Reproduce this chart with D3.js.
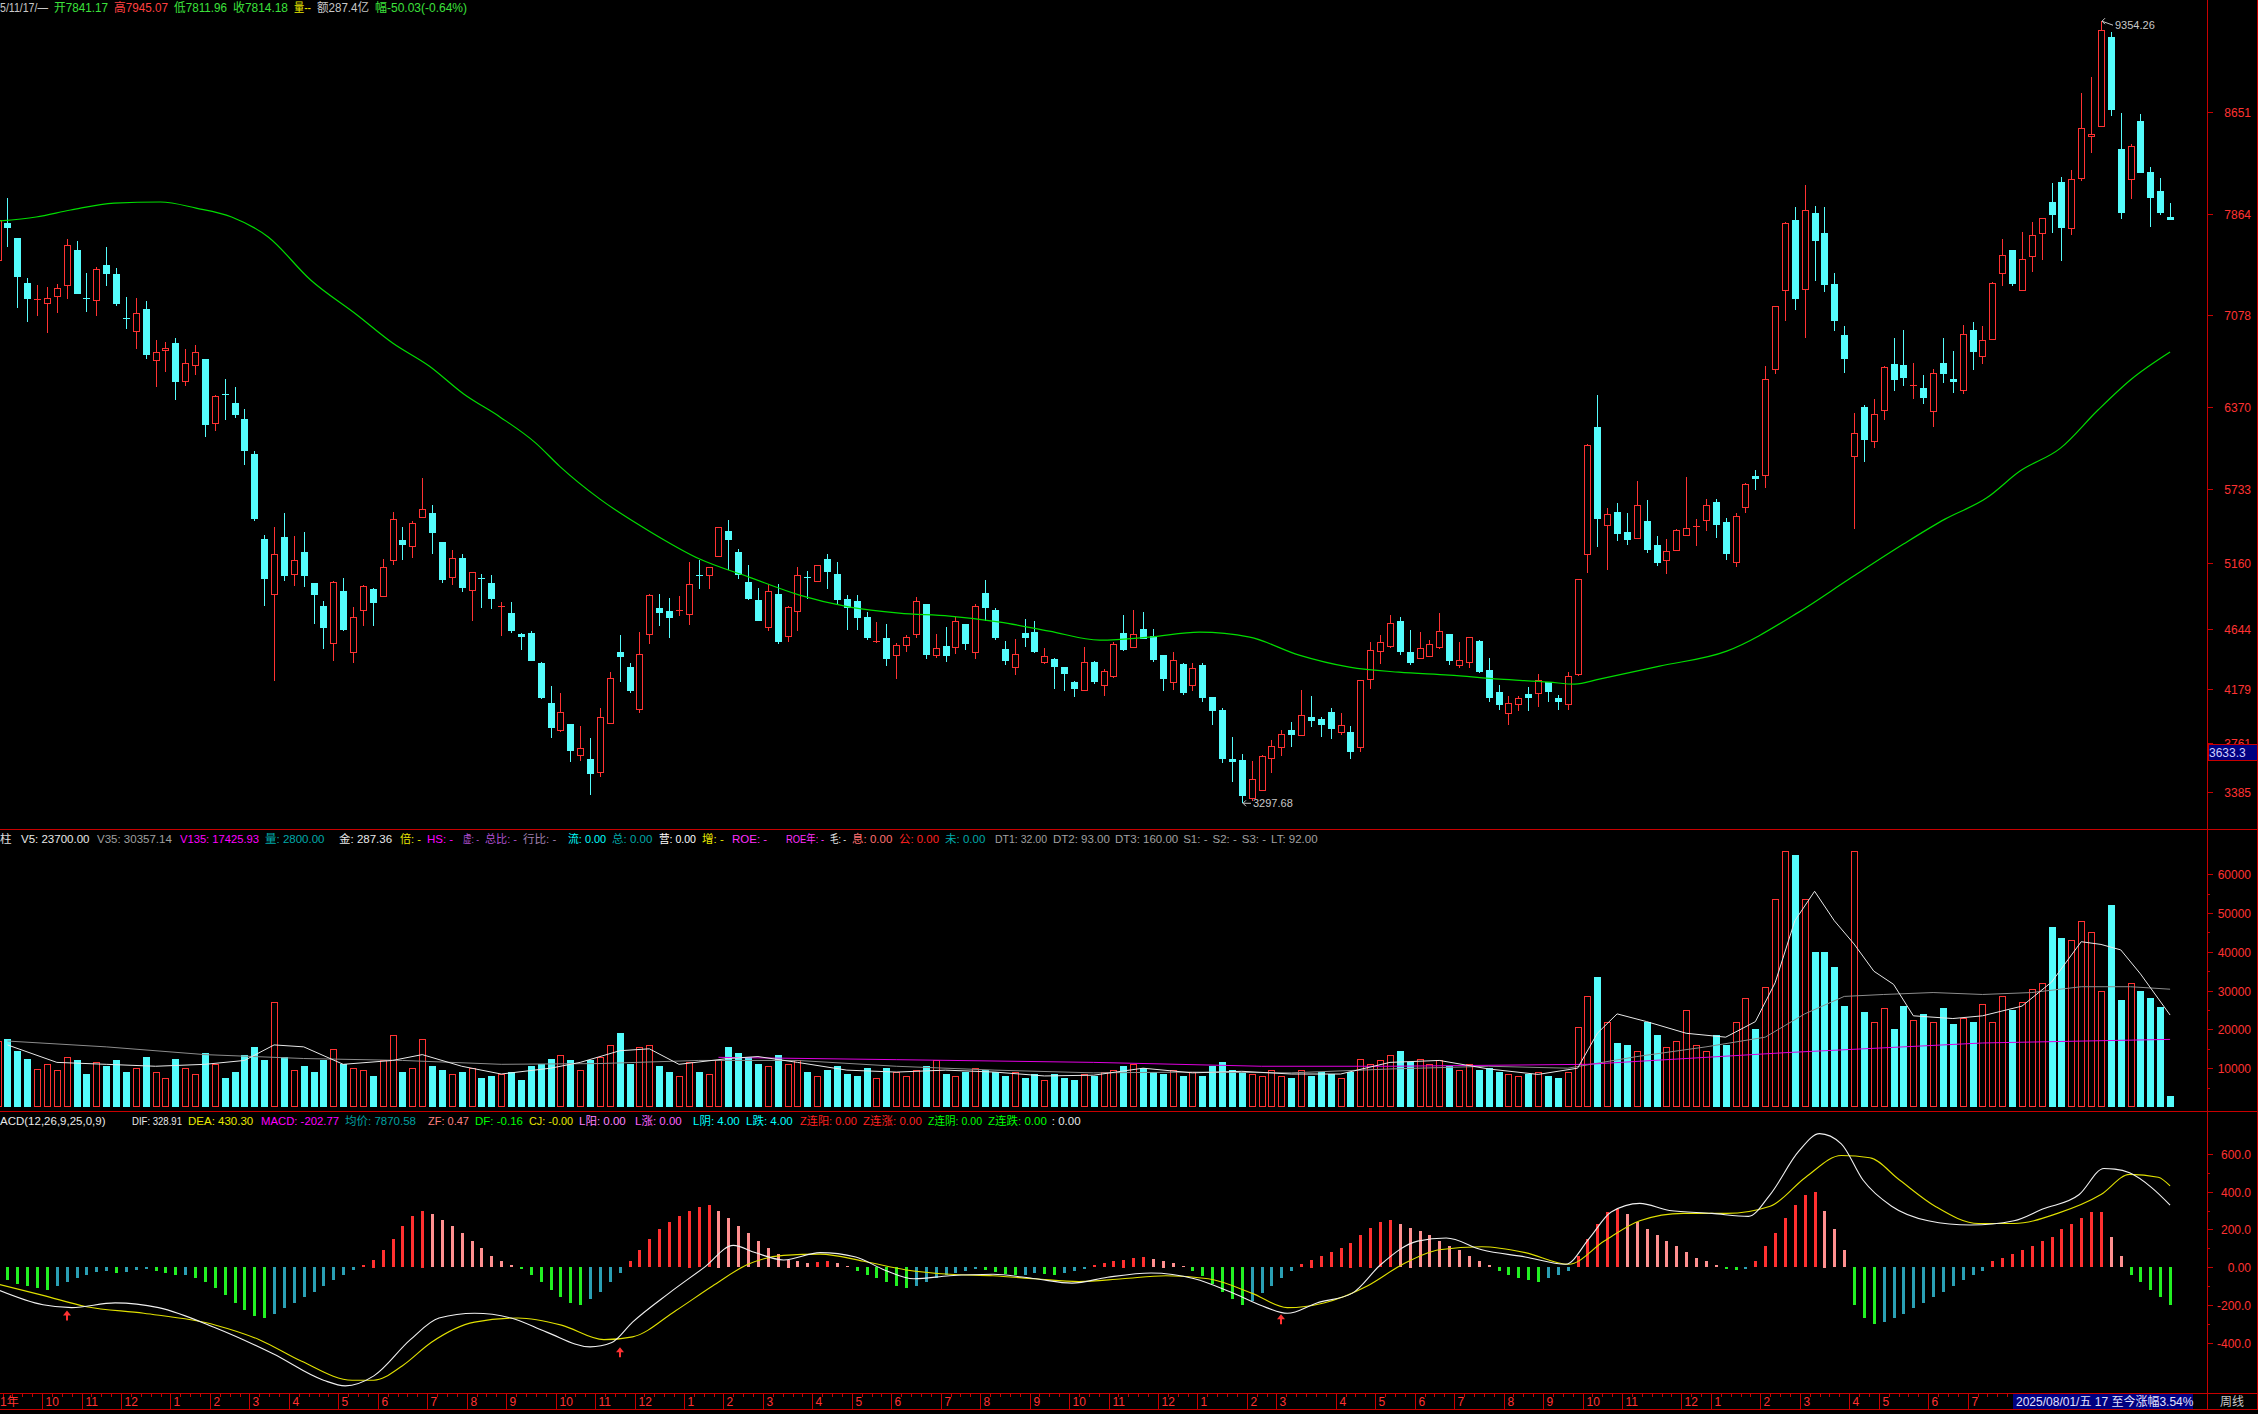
<!DOCTYPE html>
<html><head><meta charset="utf-8">
<script src="https://cdn.jsdelivr.net/npm/d3@7"></script>
<style>
html,body{margin:0;padding:0;background:#000;overflow:hidden;}
svg{display:block;}
text{font-family:"Liberation Sans","Noto Sans CJK SC",sans-serif;font-size:12px;}
</style></head><body>
<svg id="chart" width="2258" height="1414"></svg>
<script>
// ---------------- DATA (weekly candles, k = 0..220; k=0 is the partial bar at the left edge) ----------------
const openP=[7501,7792,7675,7327,7199,7169,7229,7315,7583,7213,
7198,7466,7397,7052,6957,7125,6730,6805,6862,6565,
6688,6736,6246,6470,6398,6271,6002,5342,4915,5357,
5076,5243,5003,4823,4541,4940,4466,4798,4956,4905,
5183,5335,5291,5512,5544,5319,5047,5196,4946,5044,
5000,4820,4769,4608,4614,4387,4073,3865,3908,3674,
3640,3539,3918,4466,4351,4028,4609,4810,4787,4790,
4762,5062,5067,5213,5406,5246,5009,4871,4662,4917,
4593,4790,5052,5019,5192,5070,4879,4864,4741,4550,
4581,4448,4522,4606,4841,4448,4517,4507,4688,4471,
4925,4792,4494,4354,4616,4627,4395,4412,4351,4234,
4178,4395,4212,4282,4615,4509,4646,4592,4445,4238,
4375,4210,4367,4119,4019,3644,3631,3340,3404,3650,
3735,3869,3828,3964,3954,4008,3851,3848,3735,4261,
4478,4517,4708,4468,4424,4440,4509,4607,4370,4393,
4553,4329,4158,3998,4070,4143,4148,4236,4112,4063,
4295,5225,6215,5452,5557,5400,5352,5486,5301,5185,
5256,5378,5435,5488,5630,5476,5170,5595,5832,5838,
6660,7272,7812,7278,7871,7711,7316,6925,5987,6367,
6105,6346,6699,6693,6527,6515,6337,6711,6580,6497,
6966,6764,6892,7405,7580,7272,7536,7717,7952,8106,
7753,8138,8462,8539,9231,8364,8136,8584,8189,8043,
7841.17];
const highP=[7830,7985,7675,7365,7311,7296,7318,7666,7653,7403,
7451,7605,7441,7217,7207,7188,6885,6869,6900,6815,
6847,6736,6458,6587,6518,6353,6024,5373,5436,5544,
5367,5398,5003,4864,5022,5041,4817,4987,4962,5187,
5553,5436,5484,5816,5607,5319,5259,5228,5089,5073,
5063,4854,4854,4614,4633,4393,4203,4153,3908,3893,
3801,4038,4311,4604,4382,4627,4922,4922,4886,4902,
5169,5185,5128,5434,5490,5269,5146,4963,4993,4998,
4825,5131,5093,5144,5228,5169,4909,4909,4779,4703,
4688,4542,4604,4894,4841,4611,4665,4741,4688,4843,
5024,4810,4555,4570,4723,4711,4502,4420,4351,4244,
4509,4402,4340,4543,4755,4793,4778,4646,4445,4468,
4383,4383,4383,4119,4032,3810,3678,3624,3670,3786,
3864,3926,4174,4127,3962,4032,3995,3895,4256,4543,
4600,4755,4739,4638,4623,4561,4770,4607,4546,4584,
4561,4422,4212,4127,4127,4197,4298,4238,4135,4313,
5033,6079,6462,5581,5626,5547,5790,5649,5368,5343,
5423,5823,5497,5654,5654,5506,5542,5779,5877,6684,
7150,7797,7916,8082,7925,7916,7402,6996,6319,6379,
6432,6684,6901,6960,6711,6616,6660,6898,6803,7002,
7025,6990,7337,7664,7584,7723,7803,7827,8100,8144,
8198,8797,8925,9354.26,9272,8643,8403,8637,8225,8139,
7945.07];
const lowP=[7480,7609,7134,7027,7074,6941,7096,7204,7242,7106,
7074,7305,7150,6973,6812,6742,6524,6641,6417,6527,
6616,6135,6183,6268,6284,5920,5487,4826,4247,5022,
4981,4975,4687,4494,4402,4633,4387,4671,4671,4893,
5145,5180,5199,5512,5231,5006,4990,4937,4712,4810,
4804,4595,4617,4488,4399,4102,3805,3847,3620,3628,
3360,3503,3911,4237,4153,3995,4535,4672,4576,4751,
4680,4958,4958,5213,5103,5034,4871,4713,4629,4530,
4545,4629,4881,5011,4958,4843,4642,4642,4560,4537,
4362,4262,4469,4576,4415,4423,4392,4453,4484,4415,
4713,4565,4369,4293,4507,4458,4377,4186,4165,4117,
4168,4224,4127,4269,4478,4509,4566,4393,4168,4176,
4135,4168,4083,3903,3613,3464,3297.68,3318,3394,3533,
3665,3735,3828,3890,3812,3797,3828,3642,3696,4184,
4378,4499,4445,4367,4424,4440,4494,4367,4347,4347,
4308,4083,4021,3905,4014,4014,4045,4083,4021,4021,
4285,5083,5280,5105,5327,5298,5346,5235,5134,5072,
5250,5369,5289,5408,5349,5179,5126,5542,5726,5743,
6625,7031,7121,6898,7343,7257,6957,6631,5423,5942,
6046,6266,6491,6527,6432,6387,6209,6551,6476,6467,
6654,6699,6886,7307,7307,7272,7411,7506,7717,7494,
7702,8118,8331,8539,8622,7821,7975,8180,7762,7851,
7811.96];
const closeP=[7817,7754,7375,7204,7203,7207,7286,7618,7242,7207,
7435,7397,7166,7046,7093,6771,6790,6821,6562,6704,
6790,6227,6448,6464,6303,6028,5500,5035,5228,5060,
5180,5060,4911,4655,5010,4640,4738,4978,4851,5127,
5496,5300,5468,5575,5392,5028,5199,4965,5085,5035,
4877,4826,4633,4589,4402,4115,3877,4005,3704,3722,
3521,3962,4267,4428,4168,4456,4909,4774,4736,4795,
4993,5057,5128,5434,5340,5067,4879,4713,4945,4550,
4815,5067,5044,5144,5088,4874,4807,4734,4581,4555,
4413,4525,4588,4861,4446,4504,4438,4711,4530,4823,
4810,4578,4400,4456,4576,4469,4441,4354,4300,4186,
4395,4237,4322,4535,4486,4605,4566,4409,4261,4411,
4150,4344,4114,4014,3642,3618,3355,3482,3662,3745,
3833,3828,3980,3936,3905,3874,3900,3696,4251,4484,
4543,4693,4468,4383,4499,4535,4631,4401,4406,4584,
4316,4114,4060,4073,4112,4114,4251,4161,4083,4287,
5031,6071,5503,5534,5380,5336,5610,5257,5158,5253,
5417,5432,5443,5607,5452,5230,5521,5770,5809,6586,
7150,7794,7204,7895,7649,7311,7031,6738,6165,6111,
6313,6675,6574,6589,6533,6438,6631,6625,6563,6933,
6794,6886,7328,7545,7316,7515,7702,7827,7851,7753,
8135,8530,8480,9287,8667,7868,8391,8180,7984,7868,
7814.18];
const volume=[17000,
17500,14500,12500,9800,11000,9500,13000,12000,8500,11500,
10500,12000,9000,10000,13000,9000,7500,12500,10000,8500,
14000,11000,7500,9000,13500,15500,12000,27000,13000,9500,
10500,9000,12000,15000,11000,10000,9500,8000,12000,18500,
9000,10000,17500,10500,9500,8500,9000,10000,7500,8000,
8500,9000,7000,10500,11000,12500,13500,12000,9500,12000,
13000,16000,19000,11000,15500,16000,10500,9000,8000,11500,
9000,8500,12000,15500,14000,13000,11000,10500,13500,11000,
12000,9000,8000,9500,10500,8500,8000,10000,7500,10000,
9000,8000,9500,10500,12000,8500,8000,9000,10000,9500,
9000,8000,9000,7500,8500,7000,8500,7500,7000,8500,
8000,9000,9500,10500,11000,10000,9000,8500,9500,8000,
9000,8000,10500,11500,9500,9000,8500,8000,9500,8000,
7500,9500,8000,9000,8500,7500,9000,12500,11000,12000,
13500,14500,11500,12500,11000,12000,10500,9500,11000,9500,
10000,9000,8500,8000,8500,9000,8000,7500,9000,20500,
28500,33500,22000,16500,16000,14500,22000,18500,15500,17000,
25000,16000,14500,18500,16000,22000,28000,20000,31000,53500,
66000,65000,53500,40000,40000,36000,26000,66000,24500,22000,
25500,20000,26000,22500,24000,22000,25500,21500,23000,22000,
26500,22000,28500,25000,27000,30500,32000,46500,43500,43000,
48000,45000,30000,52000,27500,32000,30000,28000,25700,2800];
const macdHist=[-50,
-70,-90,-100,-110,-120,-100,-80,-60,-40,-25,
-20,-30,-25,-15,-10,-20,-30,-45,-40,-60,
-80,-110,-150,-190,-230,-260,-270,-250,-220,-190,
-160,-130,-100,-70,-40,-15,10,40,90,150,
220,270,300,280,250,220,180,140,100,60,
30,10,-10,-40,-80,-120,-160,-190,-200,-170,
-130,-80,-30,30,90,150,200,240,270,300,
320,330,300,260,220,180,140,100,70,40,
30,20,25,30,20,5,-20,-40,-60,-80,
-100,-110,-100,-80,-60,-40,-30,-20,-10,-15,
-25,-35,-45,-40,-30,-35,-40,-30,-20,-10,
10,20,30,40,50,55,45,35,20,5,
-20,-50,-90,-130,-170,-200,-180,-140,-100,-60,
-20,15,40,60,80,100,130,170,210,240,
250,230,210,190,170,140,110,90,60,30,
10,-20,-40,-60,-70,-80,-60,-40,-20,60,
150,230,290,310,280,240,200,170,140,110,
80,50,30,10,-10,-15,-10,30,110,180,
260,330,380,400,300,200,90,-200,-270,-300,
-290,-270,-250,-220,-190,-160,-130,-100,-70,-40,
-20,30,50,70,90,110,140,160,200,230,
260,290,290,160,60,-40,-80,-120,-160,-202.77];
// moving-average line of the price panel (sampled: bar index, value)
const maIdx=[0.2,3.9,7.4,11.8,16.5,20.1,23.7,27.4,31.7,36.4,40,43.7,47.2,50.9,54.5,56.9,61,66,71.1,76.1,81.2,86.3,91.3,96.4,101.5,106.5,111.6,116.6,121.7,126.8,131.8,136.9,141.9,147,152.1,157.1,159.7,162.2,168.3,175.1,182.4,187.5,193,197.2,201.4,204.8,208.9,212.7,216.1,220];
const maVal=[7807,7838,7892,7946,7954,7907,7838,7683,7350,7079,6862,6684,6467,6288,6087,5909,5653,5405,5189,5049,4910,4817,4770,4747,4701,4631,4561,4584,4623,4584,4445,4352,4313,4290,4259,4236,4220,4259,4360,4476,4778,5034,5305,5498,5661,5870,6048,6343,6583,6792];
// volume averages
const v5Idx=[1,6,11,16,21,25,28,31,35,40,43,47,51,56,59,63,66,69,74,77,81,86,91,96,101,106,111,116,121,126,131,136,141,146,151,156,160,162,164,167,171,175,178,180,182,184,186,188,190,192,194,198,201,205,208,211,213,215,217,220];
const v5Val=[16000,11500,11000,10500,11000,12000,16000,15500,11000,12000,13500,10500,8500,10000,11500,14500,15000,11000,12500,13000,11500,9500,9000,9500,9000,8000,8200,10000,8800,9200,8500,8500,11500,12000,9800,8400,10000,19000,24000,22000,19000,18000,22000,32000,48000,55600,48000,42000,35000,31600,23500,22800,23500,26000,32200,42600,41900,40500,34300,23700];
const v35Idx=[1,11,21,31,41,51,61,71,81,91,101,111,121,131,141,151,159,166,173,179,183,187,191,196,201,206,211,216,220];
const v35Val=[17000,15500,13500,12500,12000,11000,11200,12000,12000,10500,9500,8800,9000,8800,9800,10500,10000,13000,15500,18000,24000,28500,29000,29500,29000,29500,31000,31000,30357.14];
const v135Idx=[73,91,111,128,141,161,181,201,220];
const v135Val=[12800,12200,11500,10500,10500,11000,14000,16500,17425.93];
// MACD lines (sampled)
const difIdx=[0,4.6,7.5,11.9,16.3,22.1,27.9,33,35.2,38.1,41.8,44.7,48.3,52,55.6,60,62.2,64.3,68,71.6,74.5,76.7,79.6,83.3,86.9,89.8,92.8,96.4,100.8,105.1,108.8,112.4,116.8,121.2,124.8,128.5,130.6,133.6,137.2,140.1,143.8,146.7,150.3,154.7,158.8,161.2,163.4,166.3,169.3,173.6,177.3,179.5,182.4,184.5,186.7,188.9,191.8,195.5,199.8,204.2,207.1,210.8,213.3,214.4,215.9,218.1,220];
const difVal=[-120,-200,-215,-190,-215,-323,-460,-600,-630,-577,-385,-270,-245,-270,-345,-423,-400,-292,-138,0,115,77,38,77,54,-15,-62,-46,-38,-62,-85,-54,-31,-62,-131,-215,-245,-190,-138,15,138,154,92,54,15,154,292,338,300,285,269,385,615,708,654,462,323,246,223,246,308,385,523,520,500,423,328.91];
const deaIdx=[0,4.6,9,14.8,22.1,26.5,30.8,35.9,38.1,41,43.9,48.3,52.7,57.1,61.4,64.3,68.7,72.4,76,79.6,83.3,87.7,92,96.4,100.8,105.1,109.5,113.9,118.3,122.6,127,130.6,134.3,138.7,142.3,146,150.3,154.7,159.1,162.7,166.3,170.7,175.1,179.5,183.1,186.7,189.6,192.6,196.2,200.6,204.2,208.6,213,215.9,218.8,220];
const deaVal=[-90,-150,-210,-245,-308,-385,-500,-600,-600,-523,-400,-292,-270,-308,-385,-370,-230,-100,15,62,69,31,-15,-38,-46,-62,-77,-62,-46,-62,-138,-215,-190,-100,15,92,108,77,15,138,246,285,285,323,477,592,580,462,323,231,231,285,385,492,477,430.30];
const arrowIdx=[7,63,130];
const arrowVal=[-225,-420,-245];
// axis ticks
const priceTicks=[3385,3761,4179,4644,5160,5733,6370,7078,7864,8651];
const volTicks=[10000,20000,30000,40000,50000,60000];
const macdTicks=[-400,-200,0,200,400,600];
const macdTickLbl=["-400.0","-200.0","0.00","200.0","400.0","600.0"];
const monthIdx=[0,5,9,13,18,22,26,30,35,39,44,48,52,57,61,65,70,74,78,83,87,91,96,100,105,109,113,118,122,127,130,136,140,144,148,153,157,161,165,171,174,179,183,188,191,196,200];
const monthLbl=["1年","10","11","12","1","2","3","4","5","6","7","8","9","10","11","12","1","2","3","4","5","6","7","8","9","10","11","12","1","2","3","4","5","6","7","8","9","10","11","12","1","2","3","4","5","6","7"];
// header texts
const G='#3ce03c', R='#ff4040';
const topHdr=[["5/11/17/—","#c8c8c8"],["开7841.17",G],["高7945.07",R],["低7811.96",G],["收7814.18",G],["量--","#e8e800"],["额287.4亿","#c8c8c8"],["幅-50.03(-0.64%)",G]];
const topHdrX=[0,54,114,174,233,294,317,375];
const volHdr=[["柱","#e0e0e0"],["V5: 23700.00","#e8e8e8"],["V35: 30357.14","#a0a0a0"],["V135: 17425.93","#ff00ff"],["量: 2800.00","#00a8a8"],["金: 287.36","#e8e8e8"],["倍: -","#e8e800"],["HS: -","#ff00ff"],["虚: -","#b050d0"],["总比: -","#b050d0"],["行比: -","#a080b0"],["流: 0.00","#00ffff"],["总: 0.00","#00a8a8"],["营: 0.00","#ffffff"],["增: -","#e8e800"],["ROE: -","#ff30ff"],["ROE年: -","#ff30ff"],["毛: -","#e8e8e8"],["息: 0.00","#ff7070"],["公: 0.00","#ff2020"],["未: 0.00","#00a8a8"],["DT1: 32.00","#a0a0a0"],["DT2: 93.00","#a0a0a0"],["DT3: 160.00","#a0a0a0"],["S1: -","#a0a0a0"],["S2: -","#a0a0a0"],["S3: -","#a0a0a0"],["LT: 92.00","#a0a0a0"]];
const volHdrX=[0,21,97,180,265,339,400,427,463,485,523,568,612,659,702,732,786,830,852,899,945,995,1053];
const macdHdr=[["ACD(12,26,9,25,0,9)","#e8e8e8"],["DIF: 328.91","#e8e8e8"],["DEA: 430.30","#e8e800"],["MACD: -202.77","#ff00ff"],["均价: 7870.58","#00a0a0"],["ZF: 0.47","#ff8080"],["DF: -0.16","#00ff00"],["CJ: -0.00","#e8e800"],["L阳: 0.00","#ff80ff"],["L涨: 0.00","#ff60ff"],["L阴: 4.00","#00ffff"],["L跌: 4.00","#00ffff"],["Z连阳: 0.00","#ff2020"],["Z连涨: 0.00","#ff2020"],["Z连阴: 0.00","#00ff00"],["Z连跌: 0.00","#00ff00"],[": 0.00","#e8e8e8"]];
const macdHdrX=[0,132,188,261,345,428,475,529,579,635,693,746,800,863,928,988];

// ---------------- DRAWING ----------------
const RED='#ff3232', CYAN='#54fcfc', LINE='#c80000';
const svg=d3.select('#chart');
svg.append('rect').attr('width',2258).attr('height',1414).attr('fill','#000');
const x=d3.scaleLinear().domain([0,220]).range([-2.4,2170.1]);
const yP=d3.scaleLinear().domain([3385,8651]).range([792,112]);
const yV=d3.scaleLinear().domain([0,60000]).range([1107,874.2]);
const yM=d3.scaleLinear().domain([-400,600]).range([1342.5,1154]);
const defs=svg.append('defs');
function clip(id,x0,y0,w,h){defs.append('clipPath').attr('id',id).append('rect').attr('x',x0).attr('y',y0).attr('width',w).attr('height',h);}
clip('cpP',0,0,2207,829); clip('cpV',0,846,2207,265); clip('cpM',0,1128,2207,265);
const bars=d3.range(openP.length).map(k=>({k,o:openP[k],h:highP[k],l:lowP[k],c:closeP[k],v:volume[k],m:macdHist[k]}));
const cxk=k=>Math.round(x(k));

// panel frame lines
const frame=svg.append('g').attr('stroke',LINE).attr('shape-rendering','crispEdges');
[829.5,1111.5,1393.5,1409.5].forEach(yy=>frame.append('line').attr('x1',0).attr('x2',2258).attr('y1',yy).attr('y2',yy));
frame.append('line').attr('x1',2207.5).attr('x2',2207.5).attr('y1',0).attr('y2',1410);
frame.append('line').attr('x1',2257.5).attr('x2',2257.5).attr('y1',0).attr('y2',1410);

// price candles
const gP=svg.append('g').attr('clip-path','url(#cpP)').attr('shape-rendering','crispEdges');
bars.forEach(d=>{
  const cx=cxk(d.k), up=d.c>=d.o, col=up?RED:CYAN;
  const yT=Math.round(yP(Math.max(d.o,d.c))), yB=Math.round(yP(Math.min(d.o,d.c)));
  const yH=Math.round(yP(d.h)), yL=Math.round(yP(d.l));
  if(up){
    if(yH<yT) gP.append('line').attr('x1',cx+0.5).attr('x2',cx+0.5).attr('y1',yH).attr('y2',yT).attr('stroke',col);
    if(yL>yB) gP.append('line').attr('x1',cx+0.5).attr('x2',cx+0.5).attr('y1',yB).attr('y2',yL).attr('stroke',col);
    if(yB-yT>=2) gP.append('rect').attr('x',cx-2.5).attr('y',yT+0.5).attr('width',6).attr('height',yB-yT).attr('fill','#000').attr('stroke',col);
    else gP.append('line').attr('x1',cx-3).attr('x2',cx+4).attr('y1',yT+0.5).attr('y2',yT+0.5).attr('stroke',col);
  } else {
    gP.append('line').attr('x1',cx+0.5).attr('x2',cx+0.5).attr('y1',yH).attr('y2',yL).attr('stroke',col);
    gP.append('rect').attr('x',cx-3).attr('y',yT).attr('width',7).attr('height',Math.max(1,yB-yT)).attr('fill',col);
  }
});
// MA line
const maPts=maIdx.map((k,i)=>[k,maVal[i]]);
svg.append('path').attr('clip-path','url(#cpP)').attr('d',d3.line().x(d=>x(d[0])).y(d=>yP(d[1])).curve(d3.curveMonotoneX)(maPts))
  .attr('fill','none').attr('stroke','#00dc00').attr('stroke-width',1.2);

// high / low annotations
(function(){
  const kH=d3.maxIndex(highP), kL=d3.minIndex(lowP);
  const hx=cxk(kH), hy=yP(highP[kH]);
  svg.append('path').attr('d',`M${hx+1},${hy} l3,-3 M${hx+1},${hy} l3,3 M${hx+1},${hy} L${hx+12},${hy+4}`).attr('stroke','#c8c8c8').attr('fill','none');
  svg.append('text').attr('x',hx+14).attr('y',hy+8).attr('fill','#c8c8c8').style('font-size','11px').text(d3.format('.2f')(highP[kH]));
  const lx=cxk(kL), ly=yP(lowP[kL]);
  svg.append('path').attr('d',`M${lx+1},${ly} l3,-3 M${lx+1},${ly} l3,3 M${lx+1},${ly} L${lx+9},${ly}`).attr('stroke','#c8c8c8').attr('fill','none');
  svg.append('text').attr('x',lx+11).attr('y',ly+4).attr('fill','#c8c8c8').style('font-size','11px').text(d3.format('.2f')(lowP[kL]));
})();

// price axis
const gA=svg.append('g');
priceTicks.forEach(v=>{
  const yy=Math.round(yP(v))+0.5;
  gA.append('line').attr('x1',2207).attr('x2',2213).attr('y1',yy).attr('y2',yy).attr('stroke',LINE).attr('shape-rendering','crispEdges');
  gA.append('text').attr('x',2251).attr('y',yy+4.5).attr('text-anchor','end').attr('fill',RED).text(v);
});
// current-value box
gA.append('rect').attr('x',2208).attr('y',744.5).attr('width',49).attr('height',16).attr('fill','#000080').attr('stroke',LINE).attr('shape-rendering','crispEdges');
gA.append('text').attr('x',2209).attr('y',757).attr('fill','#d0d0ff').text('3633.3');

// volume bars
const gV=svg.append('g').attr('clip-path','url(#cpV)').attr('shape-rendering','crispEdges');
const y0v=Math.round(yV(0));
bars.forEach(d=>{
  const cx=cxk(d.k), up=d.c>=d.o, yy=Math.round(yV(d.v));
  if(up) gV.append('rect').attr('x',cx-2.5).attr('y',yy+0.5).attr('width',6).attr('height',Math.max(1,y0v-yy-1)).attr('fill','#000').attr('stroke',RED);
  else gV.append('rect').attr('x',cx-3).attr('y',yy).attr('width',7).attr('height',Math.max(1,y0v-yy)).attr('fill',CYAN);
});
function vline(idx,val,col,w){
  svg.append('path').attr('clip-path','url(#cpV)').attr('d',d3.line().x(d=>x(d[0])).y(d=>yV(d[1]))(idx.map((k,i)=>[k,val[i]])))
    .attr('fill','none').attr('stroke',col).attr('stroke-width',w);
}
vline(v35Idx,v35Val,'#8c8c8c',1);
vline(v135Idx,v135Val,'#e000e0',1);
vline(v5Idx,v5Val,'#e8e8e8',1);
volTicks.forEach(v=>{
  const yy=Math.round(yV(v))+0.5;
  gA.append('line').attr('x1',2207).attr('x2',2213).attr('y1',yy).attr('y2',yy).attr('stroke',LINE);
  const ym=Math.round(yV(v-5000))+0.5;
  gA.append('line').attr('x1',2207).attr('x2',2210).attr('y1',ym).attr('y2',ym).attr('stroke',LINE);
  gA.append('text').attr('x',2251).attr('y',yy+4.5).attr('text-anchor','end').attr('fill',RED).text(v);
});

// MACD histogram
const gM=svg.append('g').attr('clip-path','url(#cpM)').attr('shape-rendering','crispEdges');
const y0m=yM(0);
bars.forEach((d,i)=>{
  const prev=i>0?bars[i-1].m:d.m, cx=cxk(d.k);
  let col;
  if(d.m>=0) col=d.m>=prev?'#ff3030':'#ff9090';
  else col=d.m<=prev?'#22f022':'#2a9fb4';
  const yy=yM(d.m);
  gM.append('rect').attr('x',cx-1).attr('y',Math.round(Math.min(yy,y0m))).attr('width',3).attr('height',Math.max(1,Math.round(Math.abs(yy-y0m)))).attr('fill',col);
});
function mline(idx,val,col){
  svg.append('path').attr('clip-path','url(#cpM)').attr('d',d3.line().x(d=>x(d[0])).y(d=>yM(d[1])).curve(d3.curveMonotoneX)(idx.map((k,i)=>[k,val[i]])))
    .attr('fill','none').attr('stroke',col).attr('stroke-width',1.1);
}
mline(deaIdx,deaVal,'#e0e000');
mline(difIdx,difVal,'#f0f0f0');
arrowIdx.forEach((k,i)=>{
  const cx=cxk(k), yy=yM(arrowVal[i])+1;
  svg.append('path').attr('d',`M${cx},${yy} l-4,5 h3 v5 h2 v-5 h3 z`).attr('fill',RED);
});
macdTicks.forEach((v,i)=>{
  const yy=Math.round(yM(v))+0.5;
  gA.append('line').attr('x1',2207).attr('x2',2213).attr('y1',yy).attr('y2',yy).attr('stroke',LINE);
  if(v<600){const ym=Math.round(yM(v+100))+0.5; gA.append('line').attr('x1',2207).attr('x2',2210).attr('y1',ym).attr('y2',ym).attr('stroke',LINE);}
  gA.append('text').attr('x',2251).attr('y',yy+4.5).attr('text-anchor','end').attr('fill',RED).text(macdTickLbl[i]);
});

// bottom time axis
const gT=svg.append('g').attr('shape-rendering','crispEdges');
bars.forEach(d=>{ const sx=Math.round(x(d.k)-4.94)+0.5; gT.append('line').attr('x1',sx).attr('x2',sx).attr('y1',1394).attr('y2',1397).attr('stroke',LINE); });
monthIdx.forEach((k,i)=>{
  if(i===0){ svg.append('text').attr('x',0).attr('y',1406).attr('fill',RED).text(monthLbl[i]); return; }
  const sx=Math.round(x(k)-4.94)+0.5;
  gT.append('line').attr('x1',sx).attr('x2',sx).attr('y1',1394).attr('y2',1409).attr('stroke',LINE);
  svg.append('text').attr('x',sx+3).attr('y',1406).attr('fill',RED).text(monthLbl[i]);
});
svg.append('rect').attr('x',2013).attr('y',1394).attr('width',180).attr('height',15).attr('fill','#000080');
svg.append('text').attr('x',2016).attr('y',1406).attr('fill','#e0e0ff').text('2025/08/01/五 17 至今涨幅3.54%');
svg.append('rect').attr('x',2208).attr('y',1394).attr('width',49).attr('height',15).attr('fill','#000');
svg.append('text').attr('x',2232).attr('y',1406).attr('text-anchor','middle').attr('fill','#c8c8c8').text('周线');

// headers (segments at fixed starts; a segment is squeezed if it would run into the next one)
function header(parts,xs,yb,fs){
  let xx=0;
  parts.forEach((p,i)=>{
    if(i<xs.length) xx=xs[i];
    const t=svg.append('text').attr('x',xx).attr('y',yb).attr('fill',p[1]).style('font-size',fs+'px').text(p[0]);
    let w=t.node().getComputedTextLength();
    if(i+1<xs.length){
      const avail=xs[i+1]-xx-6;
      if(w>avail){ t.attr('textLength',avail).attr('lengthAdjust','spacingAndGlyphs'); w=avail; }
    }
    xx+=w+5;
  });
}
header(topHdr,topHdrX,12,12);
header(volHdr,volHdrX,843,11.5);
header(macdHdr,macdHdrX,1125,11.5);
</script></body></html>
